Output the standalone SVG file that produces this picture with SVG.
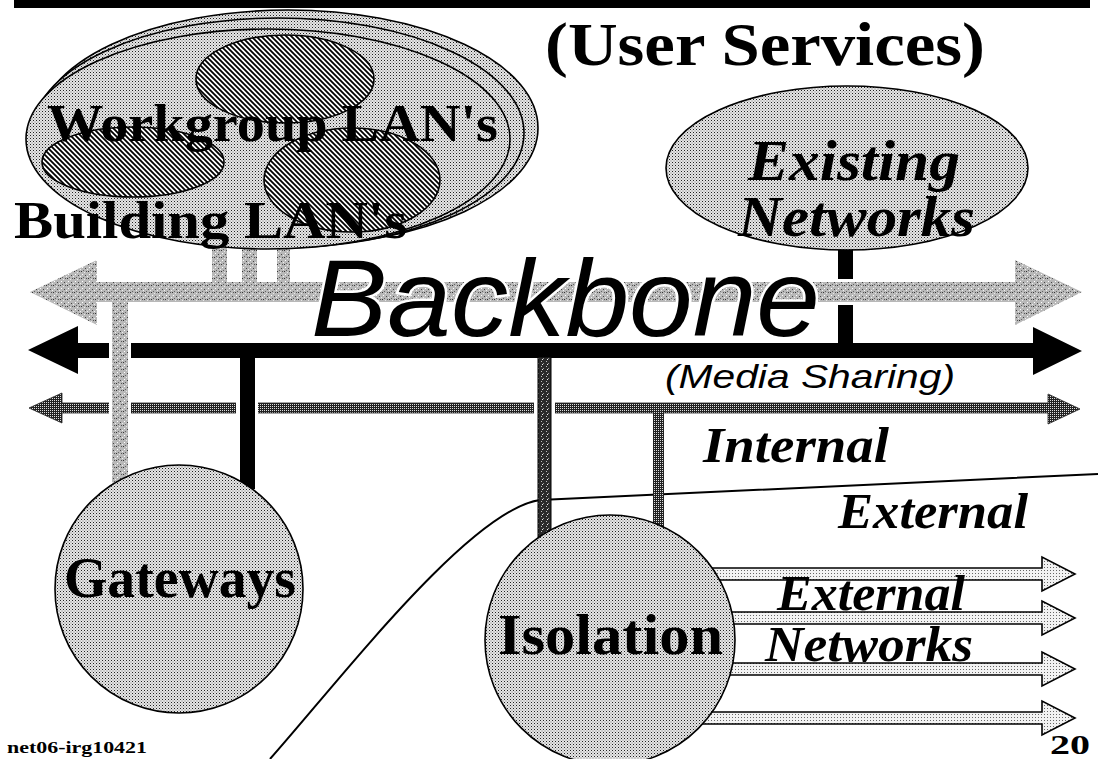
<svg xmlns="http://www.w3.org/2000/svg" width="1098" height="759" viewBox="0 0 1098 759">
<style>
.serif{font-family:"Liberation Serif","Times New Roman",serif;font-weight:bold;fill:#000}
.bi{font-style:italic}
.sans{font-family:"Liberation Sans",Arial,sans-serif;font-style:italic;fill:#000}
.outline{stroke:#000;stroke-width:1.6}
</style>
<defs>
<pattern id="dots" width="3" height="3" patternUnits="userSpaceOnUse"><rect width="3" height="3" fill="#e6e6e6"/><rect width="1" height="1" fill="#222"/><rect x="1.5" y="1.5" width="1" height="1" fill="#777"/></pattern>
<pattern id="dotsLight" width="3" height="3" patternUnits="userSpaceOnUse"><rect width="3" height="3" fill="#f2f2f2"/><rect width="1" height="1" fill="#666"/></pattern>
<pattern id="hatch" width="5" height="5" patternUnits="userSpaceOnUse"><rect width="5" height="5" fill="#fff"/><path d="M0,0 L5,5 M-1,4 L1,6 M4,-1 L6,1" stroke="#000" stroke-width="1.8"/></pattern>
<pattern id="speck" width="7" height="7" patternUnits="userSpaceOnUse"><rect width="7" height="7" fill="#b8b8b8"/><rect x="1" y="2" width="1" height="1" fill="#444"/><rect x="4" y="5" width="1" height="1" fill="#333"/><rect x="5" y="1" width="1" height="1" fill="#fff"/><rect x="2" y="5" width="1" height="1" fill="#555"/><rect x="3" y="3" width="1" height="1" fill="#eee"/><rect x="6" y="4" width="1" height="1" fill="#666"/><rect x="0" y="6" width="1" height="1" fill="#e8e8e8"/></pattern>
<pattern id="checker" width="2" height="2" patternUnits="userSpaceOnUse"><rect width="2" height="2" fill="#222"/><rect width="1" height="1" fill="#ddd"/></pattern>
<pattern id="darkspeck" width="5" height="5" patternUnits="userSpaceOnUse"><rect width="5" height="5" fill="#2a2a2a"/><rect x="1" y="1" width="1" height="1" fill="#bbb"/><rect x="3" y="3" width="1" height="1" fill="#999"/><rect x="2" y="4" width="1" height="1" fill="#eee"/></pattern>
<g id="greyshape">
<polygon points="30,292 97,260 97,282 1015,282 1015,260 1082,292 1015,325 1015,302 128,302 128,484 112,484 112,302 97,302 97,325"/>
<rect x="212" y="240" width="15" height="44"/>
<rect x="242" y="240" width="15" height="44"/>
<rect x="277" y="240" width="13" height="44"/>
</g>
</defs>
<rect width="1098" height="759" fill="#fff"/>
<rect id="topbar" x="14" y="0" width="1076" height="8" fill="#000"/>
<path id="divider" d="M270,759 C340,680 470,510 540,500 L1098,474" fill="none" stroke="#000" stroke-width="2"/>
<g id="connectors">
<polygon id="arrow-internal" points="29,408 62,393 62,403 1048,403 1048,394 1080,409 1048,424 1048,413 62,413 62,423" fill="url(#checker)" stroke="#222" stroke-width="0.8"/>
<polygon id="arrow-media" points="28,350 78,326 78,343 1033,343 1033,327 1082,351 1033,375 1033,358 78,358 78,374" fill="#000"/>
<rect id="link-existing" x="838" y="248" width="15" height="97" fill="#000"/>
<use href="#greyshape" fill="#fff" stroke="#fff" stroke-width="6" stroke-linejoin="miter"/>
<use id="arrow-backbone" href="#greyshape" fill="url(#speck)"/>
<rect x="236" y="400" width="22" height="16" fill="#fff"/>
<rect id="link-gateways" x="240" y="357" width="15" height="132" fill="#000"/>
<rect x="534" y="400" width="21" height="16" fill="#fff"/>
<rect id="link-isolation-a" x="538" y="357" width="13" height="180" fill="url(#darkspeck)" stroke="#000" stroke-width="1"/>
<rect id="link-isolation-b" x="653" y="412" width="11" height="115" fill="url(#checker)"/>
<g id="external-arrows" fill="url(#dotsLight)" class="outline">
<polygon points="690,568 1042,568 1042,557 1075,574 1042,591 1042,580 690,580"/>
<polygon points="690,612 1042,612 1042,601 1075,618 1042,635 1042,624 690,624"/>
<polygon points="690,663 1042,663 1042,652 1075,669 1042,686 1042,675 690,675"/>
<polygon points="690,712 1042,712 1042,701 1075,718 1042,735 1042,724 690,724"/>
</g>
</g>
<text id="backbone-label" class="sans" x="311" y="336" font-size="110" textLength="509" lengthAdjust="spacingAndGlyphs" stroke="#fff" stroke-width="5" paint-order="stroke">Backbone</text>
<g id="workgroup">
<ellipse cx="288" cy="128" rx="250" ry="118" fill="url(#dots)" class="outline"/>
<ellipse cx="278" cy="133" rx="246" ry="115" fill="url(#dots)" class="outline"/>
<ellipse cx="268" cy="139" rx="242" ry="110" fill="url(#dots)" class="outline"/>
<ellipse cx="285" cy="79" rx="89" ry="44" fill="url(#hatch)" class="outline"/>
<ellipse cx="133" cy="162" rx="91" ry="35" fill="url(#hatch)" class="outline"/>
<ellipse cx="352" cy="180" rx="88" ry="52" fill="url(#hatch)" class="outline"/>
<text class="serif" x="47" y="141" font-size="52" textLength="451" lengthAdjust="spacingAndGlyphs">Workgroup LAN's</text>
<text class="serif" x="14" y="238" font-size="52" textLength="393" lengthAdjust="spacingAndGlyphs">Building LAN's</text>
</g>
<g id="existing">
<ellipse cx="847" cy="168" rx="181" ry="82" fill="url(#dots)" class="outline"/>
<text class="serif bi" x="748" y="180" font-size="56" textLength="212" lengthAdjust="spacingAndGlyphs">Existing</text>
<text class="serif bi" x="738" y="236" font-size="56" textLength="237" lengthAdjust="spacingAndGlyphs">Networks</text>
</g>
<g id="gateways">
<circle cx="179" cy="589" r="124" fill="url(#dots)" class="outline"/>
<text class="serif" x="64" y="597" font-size="58" textLength="232" lengthAdjust="spacingAndGlyphs">Gateways</text>
</g>
<g id="isolation">
<circle cx="610" cy="640" r="125" fill="url(#dots)" class="outline"/>
<text class="serif" x="498" y="654" font-size="58" textLength="225" lengthAdjust="spacingAndGlyphs">Isolation</text>
</g>
<text id="title" class="serif" x="545" y="65" font-size="62" textLength="440" lengthAdjust="spacingAndGlyphs">(User Services)</text>
<text class="sans" x="665" y="388" font-size="33" textLength="290" lengthAdjust="spacingAndGlyphs">(Media Sharing)</text>
<text class="serif bi" x="703" y="462" font-size="50" textLength="186" lengthAdjust="spacingAndGlyphs">Internal</text>
<text class="serif bi" x="838" y="528" font-size="50" textLength="190" lengthAdjust="spacingAndGlyphs">External</text>
<text class="serif bi" x="777" y="610" font-size="50" textLength="188" lengthAdjust="spacingAndGlyphs">External</text>
<text class="serif bi" x="765" y="661" font-size="50" textLength="208" lengthAdjust="spacingAndGlyphs">Networks</text>
<text class="serif" x="7" y="753" font-size="16" textLength="140" lengthAdjust="spacingAndGlyphs">net06-irg10421</text>
<text class="serif" x="1050" y="754" font-size="28" textLength="40" lengthAdjust="spacingAndGlyphs">20</text>
</svg>
